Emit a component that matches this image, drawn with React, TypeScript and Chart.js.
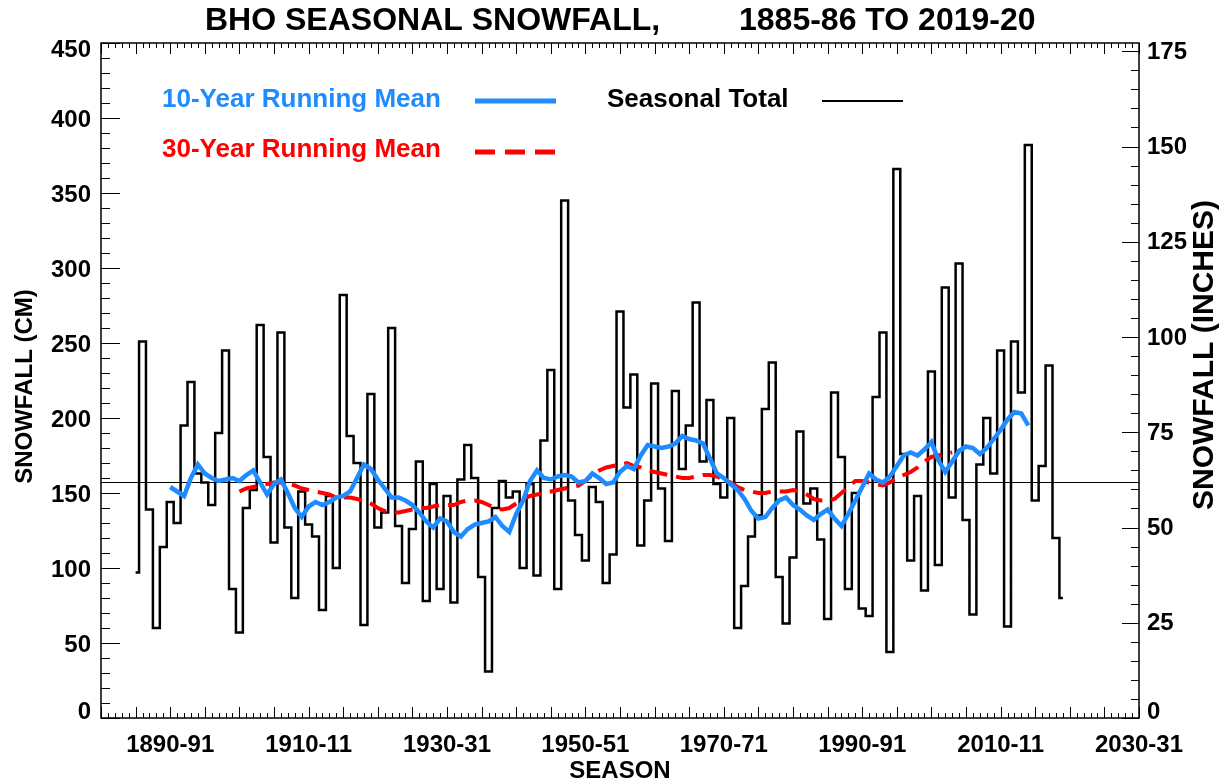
import { useEffect, useRef } from 'react';
import { Chart, registerables } from 'chart.js';

Chart.register(...registerables);

const titleLeft = 'BHO SEASONAL SNOWFALL,';
const titleRight = '1885-86 TO 2019-20';

const firstSeason = 1885;
// Seasonal totals (cm), seasons 1885-86 ... 2019-20
const seasonalTotalCm: number[] = [
  97, 251, 139, 60, 114, 144, 130, 195, 224, 163,
  157, 142, 190, 245, 86, 57, 140, 152, 262, 174,
  117, 257, 127, 80, 151, 129, 121, 72, 148, 100,
  282, 188, 170, 62, 216, 127, 137, 260, 128, 90,
  126, 171, 78, 156, 86, 148, 77, 159, 182, 160,
  94, 31, 140, 158, 147, 151, 100, 156, 95, 185,
  232, 86, 345, 145, 122, 105, 154, 144, 90, 109,
  271, 207, 229, 115, 145, 223, 153, 118, 218, 166,
  195, 277, 171, 212, 156, 147, 200, 60, 88, 121,
  135, 206, 237, 94, 63, 107, 191, 143, 153, 119,
  66, 217, 174, 86, 150, 73, 68, 214, 257, 44,
  366, 176, 105, 148, 85, 231, 102, 287, 147, 303,
  132, 69, 169, 200, 163, 245, 61, 251, 217, 382,
  145, 168, 235, 120, 80,
];

const tenYearMeanStart = 1890;
const tenYearMeanCm: number[] = [
  154, 151, 148, 160, 169, 163, 160, 158, 159, 160,
  158, 162, 165, 157, 149, 156, 159, 150, 140, 134,
  141, 144, 142, 144, 147, 148, 151, 160, 169, 166,
  159, 153, 147, 147, 145, 142, 137, 131, 127, 133,
  131, 124, 121, 126, 129, 130, 131, 134, 128, 124,
  136, 145, 158, 165, 160, 159, 161, 162, 161, 157,
  158, 163, 160, 156, 157, 164, 168, 166, 175, 182,
  181, 180, 181, 183, 188, 186, 185, 183, 173, 163,
  160, 156, 152, 146, 138, 133, 134, 140, 145, 147,
  142, 139, 135, 132, 136, 139, 133, 128, 136, 145,
  154, 163, 159, 157, 161, 168, 175, 177, 175, 179,
  184, 172, 164, 171, 178, 181, 180, 176, 180, 186,
  192, 199, 204, 203, 195,
];

const thirtyYearMeanStart = 1900;
const thirtyYearMeanCm: number[] = [
  151, 153, 154, 155, 156, 157, 157, 156, 155, 153,
  152, 151, 150, 149, 147, 147, 147, 146, 145, 143,
  140, 138, 137, 137, 138, 139, 140, 140, 141, 142,
  142, 142, 144, 145, 145, 144, 142, 140, 139, 140,
  143, 146, 148, 149, 150, 151, 152, 153, 154, 155,
  158, 162, 165, 167, 168, 169, 170, 168, 167, 165,
  164, 163, 162, 161, 160, 160, 161, 162, 162, 161,
  159, 157, 154, 152, 151, 150, 150, 151, 151, 151,
  152, 151, 149, 146, 145, 145, 146, 150, 154, 158,
  158, 157, 156, 155, 157, 160, 162, 164, 167, 171,
  174, 175, 176, 177,
];

const longTermMeanCm = 157;

const xMin = 1880;
const xMax = 2030;
const xTickYears = [1890, 1910, 1930, 1950, 1970, 1990, 2010, 2030];
const xTickLabels = ['1890-91', '1910-11', '1930-31', '1950-51', '1970-71', '1990-91', '2010-11', '2030-31'];
const yTicksCm = [0, 50, 100, 150, 200, 250, 300, 350, 400, 450];
const yTicksIn = [0, 25, 50, 75, 100, 125, 150, 175];
const yMaxCm = 450;
const cmPerInch = 2.54;

const legendLabels = ['10-Year Running Mean', '30-Year Running Mean', 'Seasonal Total'];

const BLUE = '#1e8cff';
const RED = '#ff0000';
const FONT = '"Liberation Sans", Arial, Helvetica, sans-serif';

const decorPlugin = {
  id: 'decor',
  beforeDatasetsDraw(chart: any) {
    const { ctx, chartArea: a, scales } = chart;
    ctx.save();
    ctx.strokeStyle = '#000';
    ctx.lineWidth = 1;
    ctx.beginPath();
    for (let yr = xMin; yr <= xMax; yr++) {
      const px = Math.round(scales.x.getPixelForValue(yr)) + 0.5;
      const len = yr % 5 === 0 ? 11 : 5;
      ctx.moveTo(px, a.bottom);
      ctx.lineTo(px, a.bottom - len);
      ctx.moveTo(px, a.top);
      ctx.lineTo(px, a.top + len);
    }
    for (let v = 0; v <= yMaxCm; v += 10) {
      const py = Math.round(scales.y.getPixelForValue(v)) + 0.5;
      const len = v % 50 === 0 ? 19 : 9;
      ctx.moveTo(a.left, py);
      ctx.lineTo(a.left + len, py);
    }
    for (let v = 0; v <= 175; v += 5) {
      const py = Math.round(scales.y2.getPixelForValue(v)) + 0.5;
      const len = v % 25 === 0 ? 17 : 8;
      ctx.moveTo(a.right, py);
      ctx.lineTo(a.right - len, py);
    }
    ctx.stroke();
    ctx.restore();
  },
  afterDatasetsDraw(chart: any) {
    const { ctx, chartArea: a } = chart;
    ctx.save();
    ctx.strokeStyle = '#000';
    ctx.lineWidth = 1.5;
    ctx.strokeRect(a.left, a.top, a.right - a.left, a.bottom - a.top);
    ctx.restore();
  },
  afterDraw(chart: any) {
    const { ctx, chartArea: a, scales } = chart;
    ctx.save();
    ctx.fillStyle = '#000';
    ctx.textBaseline = 'middle';
    // title
    ctx.font = `bold 32px ${FONT}`;
    ctx.textAlign = 'left';
    ctx.fillText(titleLeft, 205, 21);
    ctx.fillText(titleRight, 739, 21);
    // y tick labels (kept inside the frame at the extremes)
    ctx.font = `bold 24px ${FONT}`;
    ctx.textAlign = 'right';
    yTicksCm.forEach((v) => {
      let py = scales.y.getPixelForValue(v) + 2;
      if (v === yMaxCm) py += 5;
      if (v === 0) py -= 8;
      ctx.fillText(String(v), a.left - 10, py);
    });
    ctx.textAlign = 'left';
    yTicksIn.forEach((v) => {
      let py = scales.y2.getPixelForValue(v) + 1;
      if (v === 0) py -= 7;
      ctx.fillText(String(v), a.right + 8, py);
    });
    // axis titles
    ctx.textAlign = 'center';
    ctx.fillText('SEASON', (a.left + a.right) / 2, 771);
    ctx.save();
    ctx.translate(25, (a.top + a.bottom) / 2 + 6);
    ctx.rotate(-Math.PI / 2);
    ctx.fillText('SNOWFALL (CM)', 0, 0);
    ctx.restore();
    ctx.save();
    ctx.font = `bold 30px ${FONT}`;
    ctx.translate(1205, 355);
    ctx.rotate(-Math.PI / 2);
    ctx.fillText('SNOWFALL (INCHES)', 0, 0);
    ctx.restore();
    // legend
    ctx.textAlign = 'left';
    ctx.font = `bold 26px ${FONT}`;
    ctx.fillStyle = BLUE;
    ctx.fillText(legendLabels[0], 162, 100);
    ctx.fillStyle = RED;
    ctx.fillText(legendLabels[1], 162, 150);
    ctx.fillStyle = '#000';
    ctx.fillText(legendLabels[2], 607, 100);
    ctx.lineCap = 'butt';
    ctx.strokeStyle = BLUE;
    ctx.lineWidth = 5;
    ctx.beginPath();
    ctx.moveTo(475, 101);
    ctx.lineTo(556, 101);
    ctx.stroke();
    ctx.strokeStyle = RED;
    ctx.setLineDash([20, 10]);
    ctx.beginPath();
    ctx.moveTo(475, 152);
    ctx.lineTo(556, 152);
    ctx.stroke();
    ctx.setLineDash([]);
    ctx.strokeStyle = '#000';
    ctx.lineWidth = 2;
    ctx.beginPath();
    ctx.moveTo(822, 101);
    ctx.lineTo(903, 101);
    ctx.stroke();
    ctx.restore();
  },
};

export default function App() {
  const ref = useRef<HTMLCanvasElement | null>(null);
  useEffect(() => {
    if (!ref.current) return;
    const totals = seasonalTotalCm.map((v, i) => ({ x: firstSeason + i, y: v }));
    const ten = tenYearMeanCm.map((v, i) => ({ x: tenYearMeanStart + i, y: v }));
    const thirty = thirtyYearMeanCm.map((v, i) => ({ x: thirtyYearMeanStart + i, y: v }));
    const tickFont = { family: FONT, size: 24, weight: 'bold' as const };
    const chart = new Chart(ref.current, {
      type: 'line',
      data: {
        datasets: [
          {
            label: legendLabels[0], data: ten, borderColor: BLUE, borderWidth: 4.5,
            pointRadius: 0, order: 1, tension: 0,
          },
          {
            label: legendLabels[1], data: thirty, borderColor: RED, borderWidth: 4,
            borderDash: [18, 9], pointRadius: 0, order: 2, tension: 0,
          },
          {
            label: legendLabels[2], data: totals, borderColor: '#000', borderWidth: 2.5,
            stepped: 'middle', pointRadius: 0, order: 3,
          },
          {
            label: 'Mean', data: [{ x: xMin, y: longTermMeanCm }, { x: xMax, y: longTermMeanCm }],
            borderColor: '#000', borderWidth: 1, pointRadius: 0, order: 4,
          },
        ],
      },
      options: {
        responsive: false,
        animation: false,
        events: [],
        layout: { padding: { top: 43, left: 0, right: 0, bottom: 0 } },
        plugins: { legend: { display: false }, tooltip: { enabled: false }, title: { display: false } },
        scales: {
          x: {
            type: 'linear', min: xMin, max: xMax, position: 'bottom',
            grid: { display: false, drawTicks: false }, border: { display: false },
            afterBuildTicks: (s: any) => { s.ticks = xTickYears.map((v) => ({ value: v })); },
            afterFit: (s: any) => { s.height = 66; },
            ticks: {
              autoSkip: false, maxRotation: 0, minRotation: 0, color: '#000', font: tickFont, padding: 13,
              callback: (v: any) => xTickLabels[xTickYears.indexOf(Number(v))] ?? '',
            },
          },
          y: {
            type: 'linear', min: 0, max: yMaxCm, position: 'left',
            grid: { display: false, drawTicks: false }, border: { display: false },
            afterBuildTicks: (s: any) => { s.ticks = yTicksCm.map((v) => ({ value: v })); },
            afterFit: (s: any) => { s.width = 101; },
            ticks: { display: false },
          },
          y2: {
            type: 'linear', min: 0, max: yMaxCm / cmPerInch, position: 'right',
            grid: { display: false, drawTicks: false }, border: { display: false },
            afterBuildTicks: (s: any) => { s.ticks = yTicksIn.map((v) => ({ value: v })); },
            afterFit: (s: any) => { s.width = 86; },
            ticks: { display: false },
          },
        },
      },
      plugins: [decorPlugin],
    });
    return () => chart.destroy();
  }, []);
  return (
    <div style={{ position: 'absolute', left: 0, top: 0, width: 1225, height: 784, background: '#fff' }}>
      <canvas ref={ref} width={1225} height={784} style={{ width: 1225, height: 784, display: 'block' }} />
    </div>
  );
}
